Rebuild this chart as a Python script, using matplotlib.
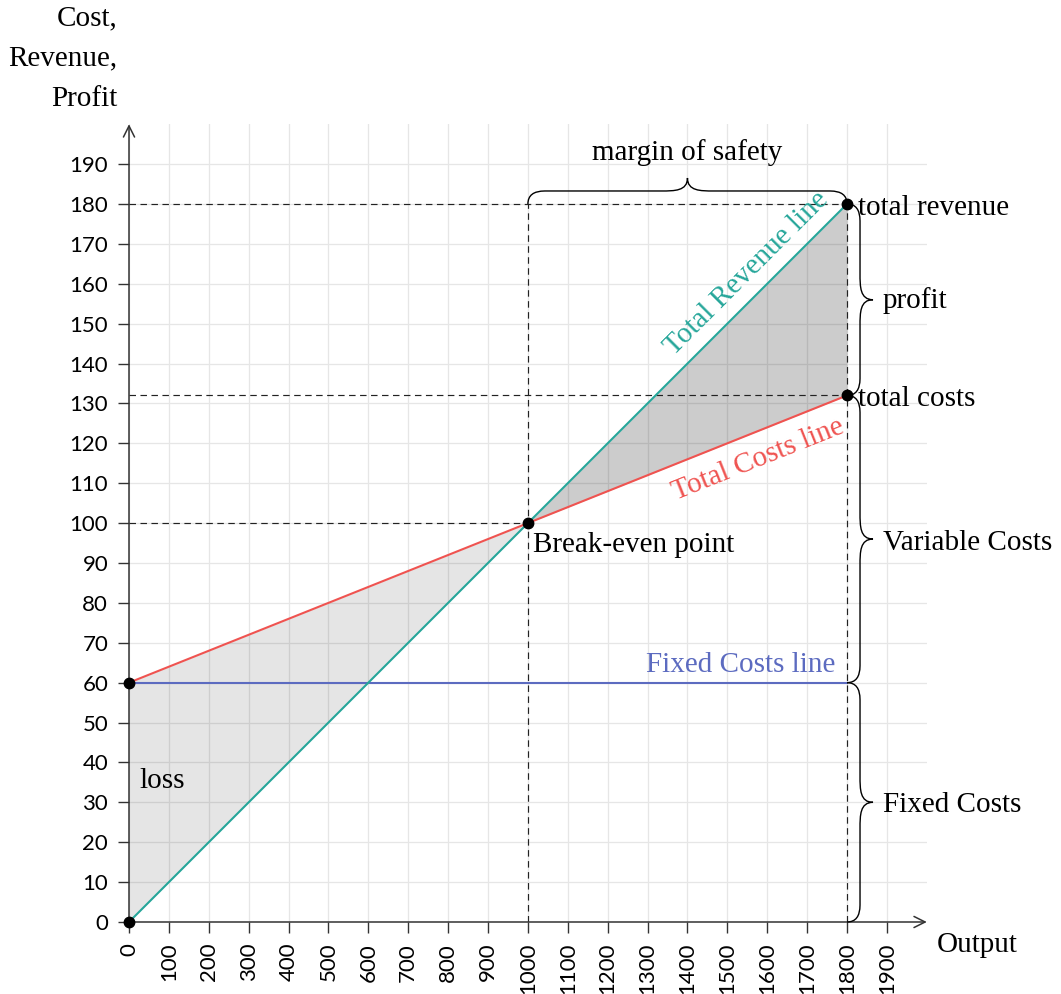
import matplotlib
matplotlib.use("Agg")
import matplotlib.pyplot as plt
from matplotlib.path import Path
from matplotlib.patches import PathPatch
import numpy as np

# ---- data ----
output = [0, 1000, 1800]
total_revenue = [0, 100, 180]
total_costs = [60, 100, 132]
fixed_costs = [60, 60, 60]
x_ticks = list(range(0, 2000, 100))
y_ticks = list(range(0, 200, 10))

TEAL = "#26a69a"
RED = "#ef5350"
BLUE = "#5c6bc0"
AX = "#333333"
SERIF = ["Liberation Serif", "DejaVu Serif"]
SANS = ["Lato", "DejaVu Sans"]
FS = 21

fig = plt.figure(figsize=(10.61, 9.94), dpi=100)
ax = fig.add_axes([129 / 1061, 72 / 994, 797.8 / 1061, 797.8 / 994])
ax.set_xlim(0, 2000)
ax.set_ylim(0, 200)
for s in ax.spines.values():
    s.set_visible(False)

ax.set_xticks(x_ticks)
ax.set_yticks(y_ticks)
ax.set_xticklabels([str(v) for v in x_ticks], rotation=90, family=SANS, fontsize=16)
ax.set_yticklabels([str(v) for v in y_ticks], family=SANS, fontsize=16)
ax.tick_params(direction="out", length=8, width=1.0, color=AX, pad=7)
ax.grid(True, color="#e6e6e6", lw=0.9, zorder=0)
ax.set_axisbelow(True)

# fills
ax.fill_between(output[:2], total_revenue[:2], total_costs[:2], color="black", alpha=0.1, lw=0, zorder=1)
ax.fill_between(output[1:], total_revenue[1:], total_costs[1:], color="black", alpha=0.2, lw=0, zorder=1)

# dashed guide lines
dash = dict(color="#222222", lw=0.85, dashes=(5.5, 3.8), zorder=2)
ax.plot([output[0], output[2]], [total_revenue[2]] * 2, **dash)
ax.plot([output[0], output[2]], [total_costs[2]] * 2, **dash)
ax.plot([output[0], output[1]], [total_revenue[1]] * 2, **dash)
ax.plot([output[1]] * 2, [0, total_revenue[2]], **dash)
ax.plot([output[2]] * 2, [0, total_revenue[2]], **dash)

# main lines
ax.plot(output, fixed_costs, color=BLUE, lw=1.5, zorder=3)
ax.plot(output, total_costs, color=RED, lw=1.5, zorder=3)
ax.plot(output, total_revenue, color=TEAL, lw=1.5, zorder=3)

# axes with arrows
arr = dict(arrowstyle="->", lw=1.1, color=AX, shrinkA=0, shrinkB=0, mutation_scale=20)
ax.annotate("", xy=(2000, 0), xytext=(0, 0), arrowprops=arr, annotation_clip=False, zorder=4)
ax.annotate("", xy=(0, 200), xytext=(0, 0), arrowprops=arr, annotation_clip=False, zorder=4)

# points
px = [output[0], output[0], output[1], output[2], output[2]]
py = [total_revenue[0], total_costs[0], total_revenue[1], total_revenue[2], total_costs[2]]
ax.plot(px, py, "o", color="black", ms=7.5, zorder=6, clip_on=False)


def brace(p0, p1, h=13.0):
    a = ax.transData.transform(p0)
    b = ax.transData.transform(p1)
    L = np.hypot(*(b - a))
    d = (b - a) / L
    n = np.array([-d[1], d[0]])
    m = L / 2
    sn = [
        (0, 0), (0, h), (1.3 * h, h),
        (m - 2 * h, h),
        (m - h, h), (m, h), (m, 2 * h),
        (m, h), (m + h, h), (m + 2 * h, h),
        (L - 1.3 * h, h),
        (L, h), (L, 0),
    ]
    codes = [Path.MOVETO, Path.CURVE3, Path.CURVE3, Path.LINETO,
             Path.CURVE4, Path.CURVE4, Path.CURVE4,
             Path.CURVE4, Path.CURVE4, Path.CURVE4,
             Path.LINETO, Path.CURVE3, Path.CURVE3]
    disp = np.array([a + s * d + t * n for s, t in sn])
    data = ax.transData.inverted().transform(disp)
    ax.add_patch(PathPatch(Path(data, codes), fill=False, lw=1.0, color="black",
                           clip_on=False, zorder=5))


brace((output[1], total_revenue[2]), (output[2], total_revenue[2]))
brace((output[2], total_revenue[2]), (output[2], total_costs[2]))
brace((output[2], total_costs[2]), (output[2], fixed_costs[2]))
brace((output[2], fixed_costs[2]), (output[2], 0))

tk = dict(family=SERIF, fontsize=FS, clip_on=False)
ax.text(1399, 192.8, "margin of safety", ha="center", va="center", **tk)
ax.text(1827, 179, "total revenue", ha="left", va="center", **tk)
ax.text(1827, 131, "total costs", ha="left", va="center", **tk)
ax.text(1890, 155.7, "profit", ha="left", va="center", **tk)
ax.text(1890, 95, "Variable Costs", ha="left", va="center", **tk)
ax.text(1890, 29.3, "Fixed Costs", ha="left", va="center", **tk)
ax.text(2025, -5.8, "Output", ha="left", va="center", **tk)
ax.text(1013, 94.5, "Break-even point", ha="left", va="center", **tk)
ax.text(27, 35.3, "loss", ha="left", va="center", **tk)
ax.text(1770, 62.7, "Fixed Costs line", ha="right", va="baseline", color=BLUE, **tk)
ax.text(1548, 162.5, "Total Revenue line", ha="center", va="center", rotation=45,
        rotation_mode="anchor", color=TEAL, **tk)
ax.text(1578, 115.8, "Total Costs line", ha="center", va="center", rotation=21.8,
        rotation_mode="anchor", color=RED, **tk)

fig.text(117 / 1061, 1 - 5 / 994, "Cost,\nRevenue,\nProfit", ha="right", va="top",
         multialignment="right", family=SERIF, fontsize=FS, linespacing=1.72)

fig.savefig("out.png", dpi=100)
